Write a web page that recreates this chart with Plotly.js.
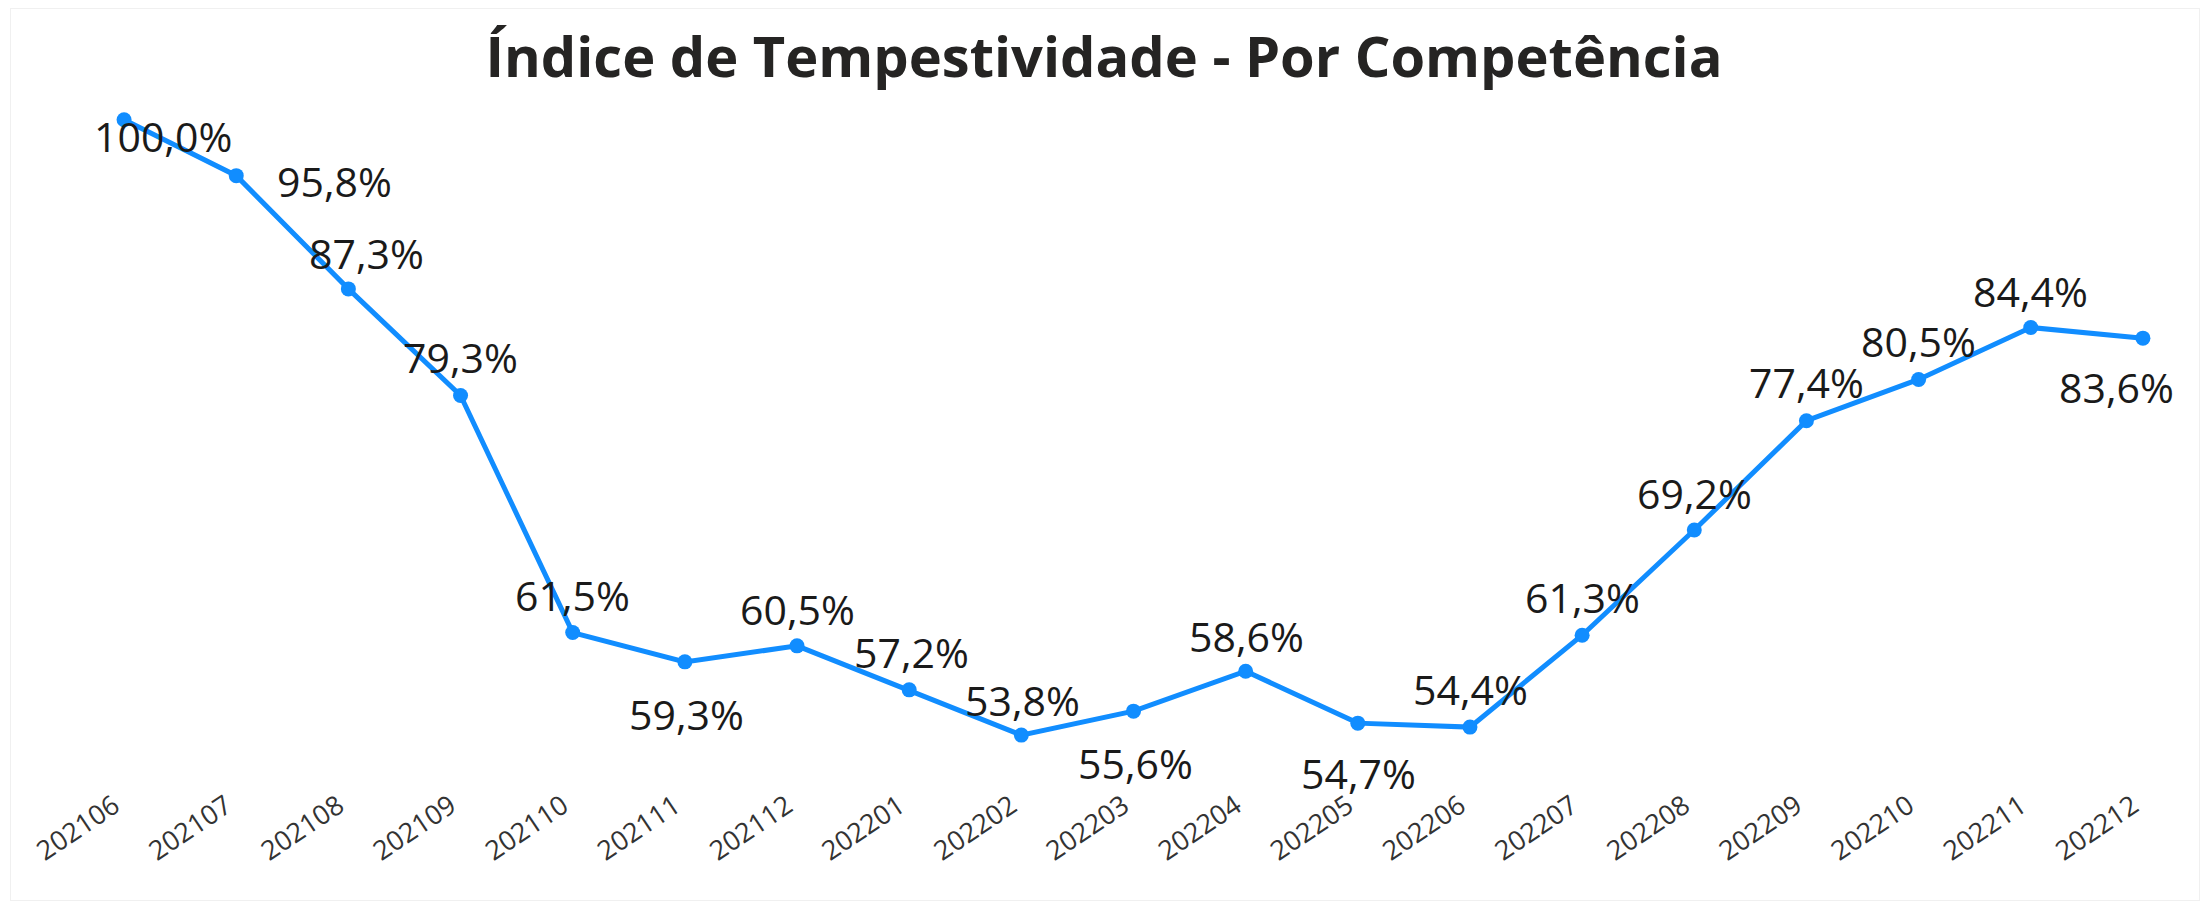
<!DOCTYPE html>
<html>
<head>
<meta charset="utf-8">
<script src="https://cdn.plot.ly/plotly-3.0.1.min.js"></script>
<style>
  html, body { margin: 0; padding: 0; background: #ffffff; }
  #wrap { position: relative; width: 2208px; height: 903px; }
  #chart { width: 2208px; height: 903px; }
  #frame { position: absolute; left: 10px; top: 8px; right: 8px; bottom: 2px;
           border: 1px solid #f0f0f0; pointer-events: none; }
</style>
</head>
<body>
<div id="wrap">
  <div id="chart"></div>
  <div id="frame"></div>
</div>
<script>
// ---- data ----
const competencias = ["202106","202107","202108","202109","202110","202111","202112",
  "202201","202202","202203","202204","202205","202206","202207","202208","202209",
  "202210","202211","202212"];
const indice = [100.0, 95.8, 87.3, 79.3, 61.5, 59.3, 60.5, 57.2, 53.8, 55.6, 58.6,
  54.7, 54.4, 61.3, 69.2, 77.4, 80.5, 84.4, 83.6];
const chartTitle = "Índice de Tempestividade - Por Competência";

// ---- label placement (pixel offsets from each point, style only) ----
const labelShiftX = [39, 98, 18, 0, 0, 2, 0, 2, 1, 2, 1, 1, 1, 0, 0, 0, 0, 0, -26];
const labelShiftY = [-16, -5, 36, 38, 38, -52, 37, 38, 35, -52, 35, -50, 38, 38, 37, 39, 38, 37, -49];

const fmt = v => v.toFixed(1).replace('.', ',') + '%';

const trace = {
  type: 'scatter',
  mode: 'lines+markers',
  x: competencias,
  y: indice,
  line: { color: '#118DFF', width: 5 },
  marker: { color: '#118DFF', size: 15 },
  hoverinfo: 'skip'
};

// category axes take the serial index of the category for annotation positions
const annotations = competencias.map((c, i) => ({
  x: i, y: indice[i], xref: 'x', yref: 'y',
  text: fmt(indice[i]),
  showarrow: false,
  xanchor: 'center', yanchor: 'middle',
  xshift: labelShiftX[i], yshift: labelShiftY[i],
  font: { family: 'Open Sans, Segoe UI, sans-serif', size: 41, color: '#1a1a1a' }
}));

const layout = {
  width: 2208, height: 903,
  paper_bgcolor: '#ffffff', plot_bgcolor: '#ffffff',
  margin: { l: 68, r: 9, t: 100, b: 119 },
  showlegend: false,
  title: {
    text: '<b>' + chartTitle + '</b>',
    x: 0.5, xref: 'container', xanchor: 'center',
    y: 1 - 57 / 903, yref: 'container', yanchor: 'middle',
    font: { family: 'Open Sans, Segoe UI, sans-serif', size: 56, color: '#252423' }
  },
  xaxis: {
    type: 'category',
    range: [-0.5, 18.5],
    showgrid: false, zeroline: false, showline: false,
    ticks: '', tickangle: -34,
    ticklabelshift: -10,
    tickfont: { family: 'Open Sans, Segoe UI, sans-serif', size: 27, color: '#333333' },
    fixedrange: true
  },
  yaxis: {
    range: [50.13, 101.48],
    visible: false,
    showgrid: false, zeroline: false,
    fixedrange: true
  },
  annotations: annotations
};

Plotly.newPlot('chart', [trace], layout, { displayModeBar: false, staticPlot: true });
</script>
</body>
</html>
